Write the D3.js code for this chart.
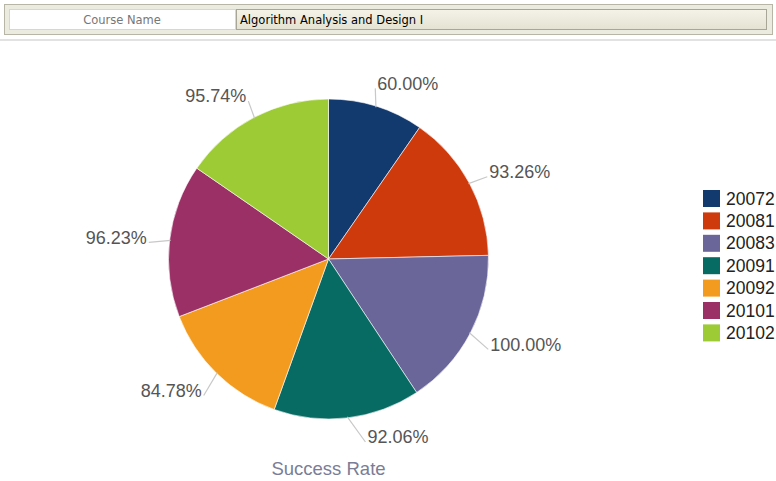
<!DOCTYPE html>
<html><head><meta charset="utf-8">
<script src="https://cdn.jsdelivr.net/npm/d3@7"></script>
<style>body{margin:0;background:#fff;}svg{display:block;}</style>
</head><body>
<svg id="chart" width="776" height="481"></svg>
<script>
const terms = ["20072","20081","20083","20091","20092","20101","20102"];
const rates = [60.00, 93.26, 100.00, 92.06, 84.78, 96.23, 95.74];
const colors = ["#133a6e","#cf3a0d","#6a6699","#086b63","#f39b1e","#9b3067","#9ccb36"];
const headerLabel = "Course Name";
const headerValue = "Algorithm Analysis and Design I";
const chartTitle = "Success Rate";

const svg = d3.select("#chart");
const font = "'Liberation Sans', Arial, sans-serif";

// header
svg.append("rect").attr("x",4.5).attr("y",4.5).attr("width",768).attr("height",30)
  .attr("fill","#ecebdf").attr("stroke","#b7b6a6");
svg.append("rect").attr("x",9.5).attr("y",9.5).attr("width",226).attr("height",20)
  .attr("fill","#ffffff").attr("stroke","#d8d7ca");
const grad = svg.append("defs").append("linearGradient").attr("id","hg").attr("x1",0).attr("y1",0).attr("x2",0).attr("y2",1);
grad.append("stop").attr("offset","0%").attr("stop-color","#f5f3e9");
grad.append("stop").attr("offset","100%").attr("stop-color","#e4e2d2");
svg.append("rect").attr("x",236.5).attr("y",9.5).attr("width",530).attr("height",20)
  .attr("fill","url(#hg)").attr("stroke","#a8a797");
svg.append("text").attr("x",122).attr("y",24).attr("text-anchor","middle")
  .attr("font-family","Tahoma, 'DejaVu Sans', sans-serif").attr("font-size",11.5).attr("fill","#777")
  .text(headerLabel);
svg.append("text").attr("x",240).attr("y",24)
  .attr("font-family","Tahoma, 'DejaVu Sans', sans-serif").attr("font-size",11.5).attr("fill","#000")
  .text(headerValue);
svg.append("line").attr("x1",0).attr("x2",776).attr("y1",40).attr("y2",40)
  .attr("stroke","#e2e2e2").attr("stroke-width",2);

// pie
const cx = 328.5, cy = 259, r = 160;
const data = terms.map((t,i)=>({term:t, value:rates[i], color:colors[i]}));
const pie = d3.pie().value(d=>d.value).sort(null);
const arcs = pie(data);
const arc = d3.arc().innerRadius(0).outerRadius(r);
const g = svg.append("g").attr("transform",`translate(${cx},${cy})`);
g.selectAll("path.slice").data(arcs).join("path").attr("class","slice")
  .attr("d",arc).attr("fill",d=>d.data.color).attr("stroke","#ffffff").attr("stroke-width",0.6);

const fmt = d3.format(".2f");
const Rl = 184, Rx = 182, yMax = 178;
arcs.forEach(a=>{
  const mid = (a.startAngle+a.endAngle)/2;
  const sx = Math.sin(mid), sy = -Math.cos(mid);
  const right = sx >= 0;
  const ly = Math.max(-yMax, Math.min(yMax, Rl*sy));
  const lx = (right?1:-1)*Math.sqrt(Math.max(0, Rx*Rx - ly*ly));
  const p1 = [sx*(r-1), sy*(r-1)];
  const p2 = [lx - (right?1:-1), ly + 5];
  g.append("line").attr("x1",p1[0]).attr("y1",p1[1]).attr("x2",p2[0]).attr("y2",p2[1])
    .attr("stroke","#c8c8c8").attr("stroke-width",1.2);
  g.append("text").attr("x",lx + (right?1:-1)).attr("y",ly).attr("dy","0.35em")
    .attr("text-anchor", right?"start":"end")
    .attr("font-family",font).attr("font-size",18).attr("fill","#555")
    .text(fmt(a.data.value)+"%");
});

svg.append("text").attr("x",cx).attr("y",475).attr("text-anchor","middle")
  .attr("font-family",font).attr("font-size",18.5).attr("fill","#7a7d96").text(chartTitle);

// legend
const lg = svg.append("g").attr("transform","translate(703,190)");
const rows = lg.selectAll("g").data(data).join("g").attr("transform",(d,i)=>`translate(0,${i*22.4})`);
rows.append("rect").attr("width",17).attr("height",17).attr("fill",d=>d.color);
rows.append("text").attr("x",23).attr("y",8.5).attr("dy","0.35em")
  .attr("font-family",font).attr("font-size",17.5).attr("fill","#222").text(d=>d.term);
</script>
</body></html>
